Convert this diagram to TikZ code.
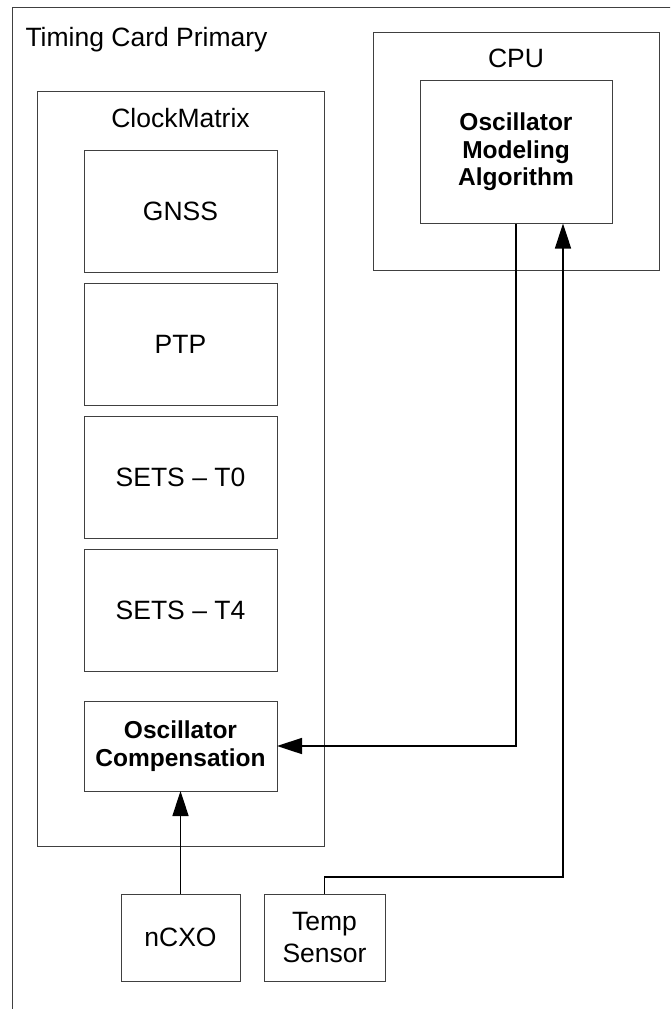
\documentclass[tikz,border=0pt]{standalone}
\usepackage{fontspec}
\setmainfont{Liberation Sans}
\usetikzlibrary{positioning,arrows.meta}
\begin{document}
\begin{tikzpicture}[x=1pt,y=-1pt,>={Triangle[length=25pt,width=16pt]},
  frame/.style={draw=black!75,line width=1pt},
  plain/.style={font=\fontsize{26.5}{32}\selectfont},
  box/.style={frame,plain,inner sep=0pt,outer sep=0pt,align=center},
  block/.style={box,minimum width=193pt,minimum height=122pt},
  strong/.style={font=\fontsize{24.5}{27.5}\selectfont\bfseries},
  link/.style={->,line width=1.6pt,black}]

  \useasboundingbox (0,0) rectangle (670,1009);
  \clip (0,0) rectangle (670,1009);
  \draw[frame] (12,7) rectangle (700,1040);
  \node[plain,anchor=base west] (title) at (22,46) {Timing Card Primary};

  % ClockMatrix
  \node[box,minimum width=287pt,minimum height=755pt] (cm) at (180.5,468.5) {};
  \node[plain] (cmlabel) at ([yshift=-27pt]cm.north) {ClockMatrix};
  \node[block] (gnss) at (180.5,211) {GNSS};
  \node[block] (ptp) [below=11pt of gnss] {PTP};
  \node[block] (t0) [below=11pt of ptp] {SETS -- T0};
  \node[block] (t4) [below=11pt of t0] {SETS -- T4};
  \node[box,strong,minimum width=193pt,minimum height=90pt] (osc) [below=30pt of t4] {Oscillator\\Compensation};

  % CPU
  \node[box,minimum width=286pt,minimum height=238pt] (cpu) at (516,151) {};
  \node[plain] (cpulabel) at ([yshift=-26pt]cpu.north) {CPU};
  \node[box,strong,minimum width=192pt,minimum height=143pt] (alg) at (516,152) {Oscillator\\Modeling\\Algorithm};

  \node[box,minimum width=119pt,minimum height=87pt] (ncxo) at (180.5,937.5) {nCXO};
  \node[box,minimum width=121pt,minimum height=87pt] (temp) at (324.5,937.5) {Temp\\Sensor};

  \draw[link] (alg.south) |- (osc.east);
  \draw[link] (temp.north) -- ++(0,-17) -| ([xshift=47pt]alg.south);
  \draw[link] (ncxo.north) -- (osc.south);
\end{tikzpicture}
\end{document}
